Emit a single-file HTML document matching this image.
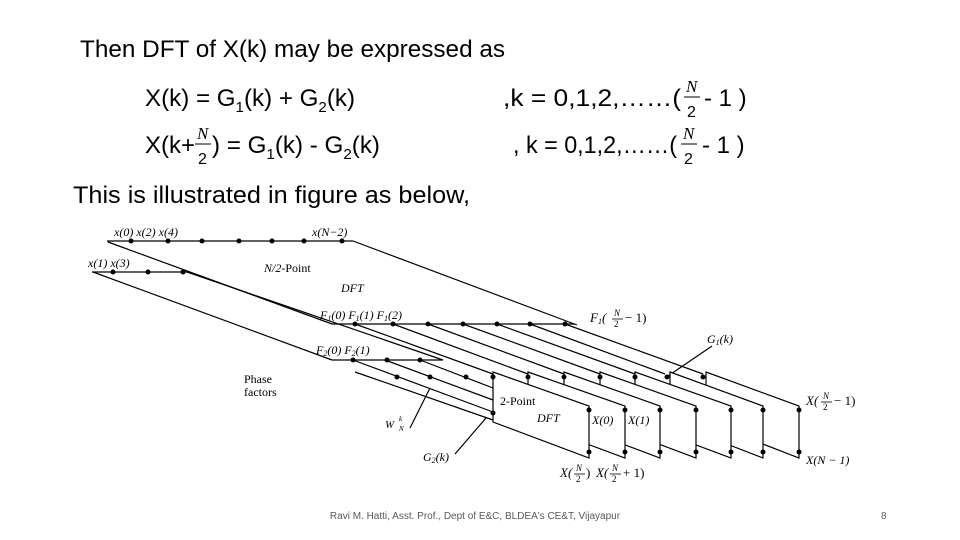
<!DOCTYPE html>
<html><head><meta charset="utf-8"><style>
html,body{margin:0;padding:0;background:#fff;}
svg{display:block;}
.t{font-family:"Liberation Sans",sans-serif;fill:#000;}
.f{font-family:"Liberation Serif",serif;font-style:italic;fill:#000;}
.r{font-family:"Liberation Serif",serif;fill:#000;}
</style></head><body>
<svg width="960" height="540" viewBox="0 0 960 540" xmlns="http://www.w3.org/2000/svg">
<text class="t" x="80" y="57" font-size="24" textLength="425" lengthAdjust="spacingAndGlyphs">Then DFT of X(k) may be expressed as</text>
<text class="t" x="145" y="106" font-size="24" textLength="210" lengthAdjust="spacingAndGlyphs">X(k) = G<tspan font-size="15" dy="6">1</tspan><tspan dy="-6">(k) + G</tspan><tspan font-size="15" dy="6">2</tspan><tspan dy="-6">(k)</tspan></text>
<text class="t" x="503" y="106" font-size="24" textLength="178" lengthAdjust="spacingAndGlyphs">,k = 0,1,2,……(</text>
<text class="f" x="686" y="92" font-size="17">N</text><line x1="684" y1="97" x2="700" y2="97" stroke="#000" stroke-width="1"/><text class="t" x="687" y="117" font-size="16">2</text>
<text class="t" x="704" y="106" font-size="24">- 1 )</text>

<text class="t" x="145" y="153" font-size="24">X(k+</text>
<text class="f" x="197" y="139" font-size="17">N</text><line x1="195" y1="144" x2="211" y2="144" stroke="#000" stroke-width="1"/><text class="t" x="198" y="164" font-size="16">2</text>
<text class="t" x="212" y="153" font-size="24" textLength="168" lengthAdjust="spacingAndGlyphs">) = G<tspan font-size="15" dy="6">1</tspan><tspan dy="-6">(k) - G</tspan><tspan font-size="15" dy="6">2</tspan><tspan dy="-6">(k)</tspan></text>
<text class="t" x="513" y="153" font-size="24" textLength="164" lengthAdjust="spacingAndGlyphs">, k = 0,1,2,……(</text>
<text class="f" x="683" y="139" font-size="17">N</text><line x1="681" y1="144" x2="697" y2="144" stroke="#000" stroke-width="1"/><text class="t" x="684" y="164" font-size="16">2</text>
<text class="t" x="702" y="153" font-size="24">- 1 )</text>

<text class="t" x="73" y="203" font-size="24" textLength="397" lengthAdjust="spacingAndGlyphs">This is illustrated in figure as below,</text>

<text class="t" x="475" y="519" font-size="10" text-anchor="middle" style="fill:#595959">Ravi M. Hatti, Asst. Prof., Dept of E&amp;C, BLDEA's CE&amp;T, Vijayapur</text>
<text class="t" x="881" y="519" font-size="10" style="fill:#595959">8</text>

<g stroke="#000" stroke-width="1.2" fill="none">
<line x1="107" y1="241" x2="353" y2="241"/>
<line x1="92" y1="272" x2="187" y2="272"/>
<line x1="108" y1="242" x2="332" y2="324"/>
<line x1="93" y1="272" x2="332" y2="360"/>
<line x1="353" y1="241" x2="577" y2="325"/>
<line x1="187" y1="272" x2="443" y2="360"/>
<line x1="332" y1="324" x2="575" y2="324"/>
<line x1="332" y1="360" x2="443" y2="360"/>
<line x1="355" y1="324" x2="493" y2="374"/>
<line x1="393" y1="324" x2="528" y2="374"/>
<line x1="428" y1="324" x2="564" y2="374"/>
<line x1="463" y1="324" x2="600" y2="374"/>
<line x1="497" y1="324" x2="635" y2="374"/>
<line x1="530" y1="324" x2="665" y2="374"/>
<line x1="565" y1="324" x2="703" y2="374"/>
<line x1="353" y1="360" x2="493" y2="412"/>
<line x1="385" y1="360" x2="493" y2="400"/>
<line x1="420" y1="360" x2="493" y2="388"/>
<line x1="355" y1="372" x2="493" y2="420"/>
<line x1="668" y1="376" x2="712" y2="346"/>
<line x1="410" y1="428" x2="430" y2="388"/>
<line x1="455" y1="454" x2="486" y2="418"/>
</g>
<g stroke="#000" stroke-width="1.2" fill="#fff">
<polygon points="706,372 799,406 799,458 706,422"/>
<polygon points="670,372 763,406 763,458 670,422"/>
<polygon points="635,372 731,406 731,458 635,422"/>
<polygon points="600,372 696,406 696,458 600,422"/>
<polygon points="564,372 660,406 660,458 564,422"/>
<polygon points="528,372 625,406 625,458 528,422"/>
<polygon points="493,372 589,406 589,458 493,422"/>
</g>
<g fill="#000">
<circle cx="131" cy="241" r="2.5"/><circle cx="168" cy="241" r="2.5"/><circle cx="202" cy="241" r="2.5"/><circle cx="239" cy="241" r="2.5"/><circle cx="272" cy="241" r="2.5"/><circle cx="304" cy="241" r="2.5"/><circle cx="342" cy="241" r="2.5"/>
<circle cx="113" cy="272" r="2.5"/><circle cx="148" cy="272" r="2.5"/><circle cx="183" cy="272" r="2.5"/>
<circle cx="355" cy="324" r="2.5"/><circle cx="393" cy="324" r="2.5"/><circle cx="428" cy="324" r="2.5"/><circle cx="463" cy="324" r="2.5"/><circle cx="497" cy="324" r="2.5"/><circle cx="530" cy="324" r="2.5"/><circle cx="565" cy="324" r="2.5"/>
<circle cx="353" cy="360" r="2.5"/><circle cx="387" cy="360" r="2.5"/><circle cx="420" cy="360" r="2.5"/>
<circle cx="397" cy="377" r="2.5"/><circle cx="430" cy="377" r="2.5"/><circle cx="466" cy="377" r="2.5"/>
<circle cx="493" cy="377" r="2.5"/><circle cx="528" cy="377" r="2.5"/><circle cx="564" cy="377" r="2.5"/><circle cx="600" cy="377" r="2.5"/><circle cx="635" cy="377" r="2.5"/><circle cx="667" cy="377" r="2.5"/><circle cx="703" cy="377" r="2.5"/>
<circle cx="493" cy="413" r="2.5"/>
<circle cx="589" cy="410" r="2.5"/><circle cx="625" cy="410" r="2.5"/><circle cx="660" cy="410" r="2.5"/><circle cx="696" cy="410" r="2.5"/><circle cx="731" cy="410" r="2.5"/><circle cx="763" cy="410" r="2.5"/><circle cx="799" cy="410" r="2.5"/>
<circle cx="589" cy="452" r="2.5"/><circle cx="625" cy="452" r="2.5"/><circle cx="660" cy="452" r="2.5"/><circle cx="696" cy="452" r="2.5"/><circle cx="731" cy="452" r="2.5"/><circle cx="763" cy="452" r="2.5"/><circle cx="799" cy="452" r="2.5"/>
</g>
<g font-size="12">
<text class="f" x="114" y="236">x(0)  x(2) x(4)</text>
<text class="f" x="312" y="236">x(N−2)</text>
<text class="f" x="88" y="267">x(1)  x(3)</text>
<text class="f" x="264" y="272">N/2-<tspan class="r" style="font-style:normal">Point</tspan></text>
<text class="f" x="341" y="292">DFT</text>
<text class="f" x="320" y="319">F<tspan font-size="8" dy="2">1</tspan><tspan dy="-2">(0)  F</tspan><tspan font-size="8" dy="2">1</tspan><tspan dy="-2">(1)  F</tspan><tspan font-size="8" dy="2">1</tspan><tspan dy="-2">(2)</tspan></text>
<text class="f" x="316" y="354">F<tspan font-size="8" dy="2">2</tspan><tspan dy="-2">(0)  F</tspan><tspan font-size="8" dy="2">2</tspan><tspan dy="-2">(1)</tspan></text>
<text class="r" x="244" y="383">Phase</text>
<text class="r" x="244" y="396">factors</text>
<text class="f" x="385" y="428" font-size="11">W</text><text class="f" x="399" y="421" font-size="7">k</text><text class="f" x="399" y="431" font-size="7">N</text>
<text class="f" x="423" y="461">G<tspan font-size="8" dy="2">2</tspan><tspan dy="-2">(k)</tspan></text>
<text class="r" x="500" y="405">2-Point</text>
<text class="f" x="537" y="422">DFT</text>
<text class="f" x="592" y="424">X(0)</text>
<text class="f" x="628" y="424">X(1)</text>
<text class="f" x="590" y="322" font-size="13">F<tspan font-size="8" dy="2">1</tspan><tspan dy="-2">(</tspan></text>
<text class="f" x="614" y="316" font-size="9">N</text><line x1="612" y1="319" x2="623" y2="319" stroke="#000" stroke-width=".8"/><text class="r" x="614" y="327" font-size="9">2</text>
<text class="r" x="625" y="322" font-size="13">− 1)</text>
<text class="f" x="707" y="343">G<tspan font-size="8" dy="2">1</tspan><tspan dy="-2">(k)</tspan></text>
<text class="f" x="806" y="405" font-size="13">X(</text>
<text class="f" x="823" y="399" font-size="9">N</text><line x1="821" y1="402" x2="832" y2="402" stroke="#000" stroke-width=".8"/><text class="r" x="823" y="410" font-size="9">2</text>
<text class="r" x="834" y="405" font-size="13">− 1)</text>
<text class="f" x="806" y="464">X(N − 1)</text>
<text class="f" x="560" y="477" font-size="13">X(</text>
<text class="f" x="576" y="471" font-size="9">N</text><line x1="574" y1="474" x2="585" y2="474" stroke="#000" stroke-width=".8"/><text class="r" x="576" y="482" font-size="9">2</text>
<text class="r" x="586" y="477" font-size="13">) </text>
<text class="f" x="596" y="477" font-size="13">X(</text>
<text class="f" x="612" y="471" font-size="9">N</text><line x1="610" y1="474" x2="621" y2="474" stroke="#000" stroke-width=".8"/><text class="r" x="612" y="482" font-size="9">2</text>
<text class="r" x="623" y="477" font-size="13">+ 1)</text>
</g>
</svg>
</body></html>
